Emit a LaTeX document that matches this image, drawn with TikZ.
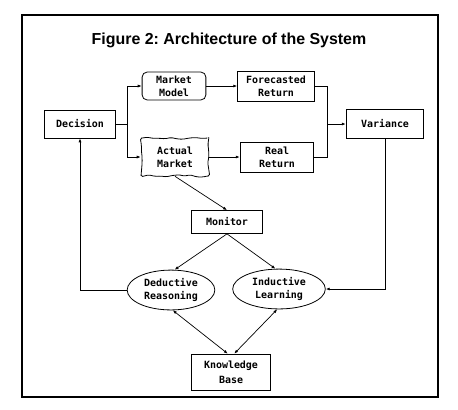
\documentclass[tikz,border=0pt]{standalone}
\usepackage{fontspec}
\setmainfont{Liberation Sans}
\setmonofont{DejaVu Sans Mono}
\frenchspacing
\usetikzlibrary{arrows.meta, shapes.geometric, decorations.pathmorphing, calc}

\tikzset{
    box/.style={draw, line width=0.8pt, align=center, inner sep=1pt, font=\ttfamily\bfseries\fontsize{10}{13}\selectfont},
    roundbox/.style={box, rounded corners=5pt},
    blob/.style={box, decorate, rounded corners=1.5pt, decoration={random steps, segment length=6pt, amplitude=1.2pt}},
    oval/.style={box, ellipse, inner sep=0pt},
    link/.style={line width=0.7pt, -{Latex[length=4pt, width=3pt]}},
    twolink/.style={line width=0.7pt, {Latex[length=4pt, width=3pt]}-{Latex[length=4pt, width=3pt]}}
}

\begin{document}
\begin{tikzpicture}[x=1bp, y=-1bp]
    \pgfmathsetseed{7}
    \useasboundingbox (0,0) rectangle (458,409);
    \draw[line width=1.3pt] (22,15) rectangle (438,397);
    \node[font=\bfseries\fontsize{16}{18}\selectfont] (title) at (229,40) {Figure 2: Architecture of the System};

    \node[box, minimum width=71, minimum height=28] (dec) at (80,124) {Decision};
    \node[roundbox, minimum width=64, minimum height=28] (mm) at (174,86) {Market\\Model};
    \node[box, minimum width=77, minimum height=30] (fr) at (276,86) {Forecasted\\Return};
    \node[box, minimum width=78, minimum height=29] (var) at (385,124) {Variance};
    \node[blob, minimum width=68, minimum height=38] (am) at (175,157) {Actual\\Market};
    \node[box, minimum width=74, minimum height=30] (rr) at (277,157) {Real\\Return};
    \node[box, minimum width=72, minimum height=23] (mon) at (227,222) {Monitor};
    \node[oval, minimum width=88, minimum height=40] (dr) at (171,290) {Deductive\\Reasoning};
    \node[oval, minimum width=93, minimum height=40] (il) at (279,289) {Inductive\\Learning};
    \node[box, minimum width=79, minimum height=36, font=\ttfamily\bfseries\fontsize{10}{15}\selectfont] (kb) at (231,372) {Knowledge\\Base};

    \coordinate (split) at (127,124);
    \coordinate (join) at (327,124);

    % decision splits into model and market
    \draw[line width=0.7pt] (dec) -- (split);
    \draw[link] (split) |- (mm);
    \draw[link] (split) |- (am);
    \draw[link] (mm) -- (fr);
    \draw[link] (am) -- (rr);

    % returns are compared
    \draw[line width=0.7pt] (fr.east) -| (join);
    \draw[line width=0.7pt] (rr.east) -| (join);
    \draw[link] (join) -- (var);

    \draw[link] (am.south) -- (mon.north);
    \draw[link] (mon.south) -- (dr.80);
    \draw[link] (mon.south) -- (il.100);

    % feedback loops
    \draw[link] (dr) -| (dec);
    \draw[link] (var) |- (il);

    \draw[twolink] (dr.-85) -- (kb.100);
    \draw[twolink] (il.-95) -- (kb.80);
\end{tikzpicture}
\end{document}
